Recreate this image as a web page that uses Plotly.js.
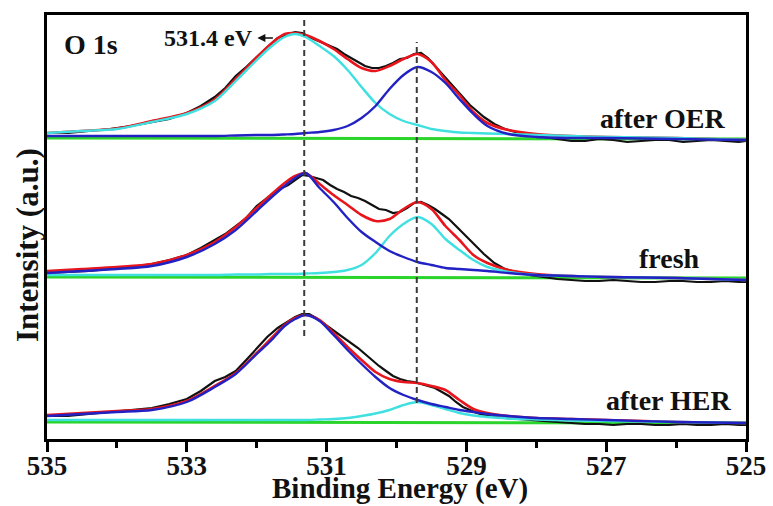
<!DOCTYPE html>
<html>
<head>
<meta charset="utf-8">
<script src="https://cdn.plot.ly/plotly-3.0.1.min.js"></script>
<style>
  html, body { margin: 0; padding: 0; background: #fff; }
  #chart { width: 773px; height: 506px; }
</style>
</head>
<body>
<div id="chart"></div>
<script>
// O 1s XPS spectra: raw data, envelope, two component peaks and baseline,
// for three samples stacked with vertical offsets (heights in a.u.).

// Binding energy grid (eV) for the fitted curves
const energyFit = [535, 534.5, 534, 533.5, 533, 532.6, 532.3, 532, 531.8, 531.6,
  531.45, 531.3, 531.1, 530.9, 530.7, 530.5, 530.3, 530.1, 529.9, 529.7,
  529.5, 529.3, 529.1, 528.9, 528.7, 528.4, 528, 527.5, 527, 526, 525];

// Binding energy grid (eV) for the measured spectra
const energyRaw = [535, 534.7, 534.4, 534.1, 533.8, 533.5, 533.25, 533, 532.8, 532.6,
  532.45, 532.3, 532.15, 532, 531.85, 531.7, 531.55, 531.45, 531.35, 531.25,
  531.15, 531.05, 530.95, 530.85, 530.75, 530.65, 530.55, 530.45, 530.35, 530.25,
  530.15, 530.05, 529.95, 529.85, 529.75, 529.65, 529.55, 529.45, 529.35, 529.25,
  529.15, 529.05, 528.95, 528.85, 528.75, 528.6, 528.45, 528.3, 528.1, 527.9,
  527.7, 527.5, 527.3, 527.1, 526.9, 526.7, 526.5, 526.3, 526.1, 525.9,
  525.7, 525.5, 525.3, 525.1, 525];

const energyBase = [535, 525];

// Vertical offsets of the stacked spectra
const offsetHER = 17;
const offsetFresh = 162;
const offsetOER = 301;

// after OER
const oerRaw = [5, 5, 7, 9, 12, 16, 19, 25, 32, 41,
  50, 62, 71, 81, 91, 100, 104, 106, 105, 101,
  98, 95, 92, 89, 84, 80, 76, 72, 70, 70,
  72, 75, 79, 80, 84, 85, 80, 72, 64, 56,
  49, 41, 33, 27, 21, 14, 9, 6, 3, 1,
  -1, -3, -3, -1, -2, -4, -3, -2, -2, -4,
  -3, -2, -3, -4, -3];
const oerEnvelope = [5, 7, 9.5, 17, 25, 38.5, 59, 80.5, 94, 104,
  105, 103, 97, 89, 79, 70, 67, 72, 79, 84,
  76, 58, 43, 26, 15, 8, 4, 2, 1, 0, -2];
const oerPeakHigh = [5, 7, 9, 16, 24, 37, 57, 78, 91, 101,
  104, 101, 92, 82, 68, 51, 35, 24, 17, 13,
  9, 7, 5.5, 5, 4.5, 4, 3, 2, 1, 0, -2];
const oerPeakLow = [2, 2, 2, 2, 2, 2, 2.5, 3, 3, 3.5,
  4, 5, 6, 8, 12, 20, 32, 49, 63, 71,
  66, 55, 39, 24, 12, 4, 1, 0, 0, -1, -2];
const oerBase = [0, -1];

// fresh
const freshRaw = [4, 5, 6, 8, 10, 13, 17, 22, 29, 37,
  43, 51, 59, 71, 79, 87, 92, 97, 102, 101,
  99, 97, 92, 88, 85, 81, 79, 76, 72, 68,
  67, 64, 65, 69, 74, 75, 72, 68, 63, 58,
  51, 44, 37, 30, 23, 14, 8, 5, 2, 0,
  -2, -3, -4, -4, -3, -4, -5, -5, -4, -4,
  -5, -5, -4, -5, -5];
const freshEnvelope = [6, 8, 10, 13, 22, 35, 50, 69, 82, 94,
  101, 104, 93, 82, 72, 62, 56, 58, 68, 75,
  68, 51, 37, 22, 14, 7, 3, 1, 0, -1, -3];
const freshPeakHigh = [4, 6, 8, 11, 20, 33, 47, 66, 79, 91,
  99, 104, 89, 75, 59, 45, 35, 26, 20, 15,
  12, 9, 8, 7, 6, 4, 2, 1, 0, -1, -3];
const freshPeakLow = [2, 2, 2, 2, 2, 2, 2.5, 2.5, 3, 3,
  3, 3.5, 4, 5, 7, 12, 24, 41, 53, 60,
  53, 38, 27, 17, 10, 5, 2, 1, 0, -1, -3];
const freshBase = [0, -1];

// after HER
const herRaw = [6, 6, 8, 10, 12, 14, 18, 23, 31, 41,
  45, 51, 62, 73, 85, 94, 101, 105, 108, 108,
  104, 99, 94, 89, 84, 79, 74, 68, 62, 56,
  51, 46, 43, 41, 40, 38, 36, 34, 30, 26,
  20, 15, 12, 9, 7, 5, 4, 3, 2, 1,
  0, -1, -2, -2, -3, -2, -2, -3, -3, -2,
  -3, -3, -2, -3, -3];
const herEnvelope = [7, 9, 11, 13, 21, 36, 49, 69, 83, 97,
  104, 107, 102, 89, 75, 62, 50, 43, 40, 39,
  36, 32, 22, 13, 9, 6, 4, 3, 2, 0, -1];
const herPeakHigh = [6, 8, 10, 12, 20, 35, 48, 68, 81, 96,
  103, 107, 101, 87, 72, 58, 45, 34, 27, 22,
  18, 15, 12, 10, 8, 6, 4, 3, 2, 0, -1];
const herPeakLow = [2, 2, 2, 2, 2, 2, 2, 2, 2, 2,
  2, 2, 2.5, 3, 4, 6, 8.5, 12, 17, 20,
  17, 13, 9, 6.5, 5, 3.5, 2.5, 1.5, 1, 0, -1];
const herBase = [0, -1];

// Peak positions marked with dashed guides (eV)
const guideEnergy = [531.32, 529.71];
const guideBottom = [103, 36];
const guideTop = [419, 397];

const sampleLabels = ['after OER', 'fresh', 'after HER'];

const COLORS = {
  raw: '#111111',
  envelope: '#e8161c',
  blue: '#2222c4',
  cyan: '#40e0e0',
  base: '#2ad42a'
};
const FONT = 'Liberation Serif, Times New Roman, serif';

function curve(x, h, offset, color, width, smooth) {
  return {
    type: 'scatter', mode: 'lines',
    x: x, y: h.map(v => v + offset),
    line: smooth ? { color: color, width: width, shape: 'spline', smoothing: 0.8 }
                 : { color: color, width: width },
    hoverinfo: 'skip', showlegend: false
  };
}

function stack(offset, raw, env, cyanPeak, bluePeak, base) {
  return [
    curve(energyBase, base, offset, COLORS.base, 3, false),
    curve(energyRaw, raw, offset, COLORS.raw, 2.2, false),
    curve(energyFit, env, offset, COLORS.envelope, 2.6, true),
    curve(energyFit, cyanPeak, offset, COLORS.cyan, 2.4, true),
    curve(energyFit, bluePeak, offset, COLORS.blue, 2.4, true)
  ];
}

const traces = [].concat(
  stack(offsetOER, oerRaw, oerEnvelope, oerPeakHigh, oerPeakLow, oerBase),
  stack(offsetFresh, freshRaw, freshEnvelope, freshPeakLow, freshPeakHigh, freshBase),
  stack(offsetHER, herRaw, herEnvelope, herPeakLow, herPeakHigh, herBase)
);

const shapes = guideEnergy.map((e, i) => ({
  type: 'line', xref: 'x', yref: 'y',
  x0: e, x1: e, y0: guideBottom[i], y1: guideTop[i],
  line: { color: '#3a3a3a', width: 2, dash: '6px,4px' }
}));

const labelFont = { family: FONT, size: 28, color: '#111', weight: 'bold' };

const annotations = [
  { text: 'O 1s', xref: 'paper', yref: 'paper', x: 0.0215, y: 0.9316,
    xanchor: 'left', yanchor: 'middle', showarrow: false, font: labelFont },
  { text: '531.4 eV', xref: 'x', yref: 'y', x: 532.02, y: 401,
    xanchor: 'right', yanchor: 'middle', showarrow: false,
    font: { family: FONT, size: 24, color: '#111', weight: 'bold' } },
  { text: '', xref: 'x', yref: 'y', x: 531.99, y: 401, ax: 17, ay: 0,
    showarrow: true, arrowhead: 2, arrowsize: 1, arrowwidth: 1.6, arrowcolor: '#111' },
  { text: sampleLabels[0], xref: 'paper', yref: 'y', x: 0.9728, y: offsetOER + 20,
    xanchor: 'right', yanchor: 'middle', showarrow: false, font: labelFont },
  { text: sampleLabels[1], xref: 'paper', yref: 'y', x: 0.937, y: offsetFresh + 19,
    xanchor: 'right', yanchor: 'middle', showarrow: false, font: labelFont },
  { text: sampleLabels[2], xref: 'paper', yref: 'y', x: 0.9814, y: offsetHER + 22,
    xanchor: 'right', yanchor: 'middle', showarrow: false, font: labelFont },
  { text: 'Binding Energy (eV)', xref: 'paper', yref: 'paper', x: 0.5043, y: -0.117,
    xanchor: 'center', yanchor: 'middle', showarrow: false,
    font: { family: FONT, size: 29, color: '#111', weight: 'bold' } },
  { text: 'Intensity (a.u.)', xref: 'paper', yref: 'paper', x: -0.0286, y: 0.4575,
    xanchor: 'center', yanchor: 'middle', textangle: -90, showarrow: false,
    font: { family: FONT, size: 31, color: '#111', weight: 'bold' } }
];

const layout = {
  width: 773, height: 506,
  margin: { l: 47, r: 27, t: 15, b: 67 },
  paper_bgcolor: '#ffffff', plot_bgcolor: '#ffffff',
  showlegend: false,
  xaxis: {
    range: [535, 525], tickmode: 'linear', tick0: 525, dtick: 2,
    ticks: 'outside', ticklen: 10, tickwidth: 3, tickcolor: '#000',
    ticklabelstandoff: -9,
    minor: { dtick: 1, tick0: 525, ticks: 'outside', ticklen: 6, tickwidth: 3, tickcolor: '#000' },
    showline: true, linewidth: 3, linecolor: '#000', mirror: true,
    showgrid: false, zeroline: false,
    tickfont: { family: FONT, size: 27, color: '#111', weight: 'bold' }
  },
  yaxis: {
    range: [0, 424], showticklabels: false, ticks: '',
    showline: true, linewidth: 3, linecolor: '#000', mirror: true,
    showgrid: false, zeroline: false
  },
  shapes: shapes,
  annotations: annotations
};

Plotly.newPlot('chart', traces, layout, { staticPlot: true, displayModeBar: false });
</script>
</body>
</html>
